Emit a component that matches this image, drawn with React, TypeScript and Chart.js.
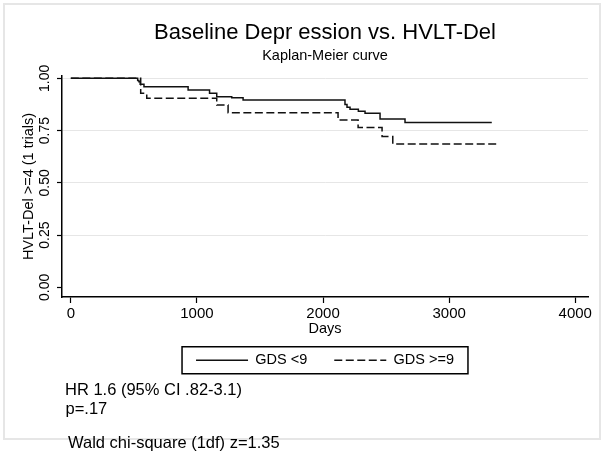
import React, { useEffect, useRef } from 'react';
import { Chart, registerables } from 'chart.js';

Chart.register(...registerables);

// ---- data ----
const chartTitle = 'Baseline Depr ession vs. HVLT-Del';
const chartSubtitle = 'Kaplan-Meier curve';
const xAxisTitle = 'Days';
const yAxisTitle = 'HVLT-Del >=4 (1 trials)';
const seriesNames = ['GDS <9', 'GDS >=9'];

// GDS <9 : event / censor days and survival after each step
const lowDays = [0, 530, 540, 550, 580, 930, 1100, 1157, 1276, 1366, 2174, 2190, 2214, 2280, 2333, 2452, 2650, 3338];
const lowSurvival = [1, 0.99, 0.984, 0.972, 0.96, 0.944, 0.928, 0.912, 0.907, 0.896, 0.875, 0.862, 0.852, 0.842, 0.833, 0.805, 0.789, 0.789];

// GDS >=9
const highDays = [0, 554, 602, 1157, 1247, 2119, 2278, 2468, 2553, 3388];
const highSurvival = [1, 0.928, 0.904, 0.872, 0.835, 0.8, 0.764, 0.721, 0.686, 0.686];

const xTickValues = [0, 1000, 2000, 3000, 4000];
const xTickLabels = ['0', '1000', '2000', '3000', '4000'];
const yTickValues = [0, 0.25, 0.5, 0.75, 1];
const yTickLabels = ['0.00', '0.25', '0.50', '0.75', '1.00'];

const noteLines = ['HR 1.6 (95% CI .82-3.1)', 'p=.17'];
const waldNote = 'Wald chi-square (1df) z=1.35';

const FONT = '"Liberation Sans", Arial, Helvetica, sans-serif';

const toPoints = (xs: number[], ys: number[]) => xs.map((x, i) => ({ x, y: ys[i] }));

const stataPlugin = {
  id: 'stataDecor',
  beforeDraw(chart: any) {
    const ctx = chart.ctx;
    ctx.save();
    ctx.strokeStyle = '#e6e6e6';
    ctx.lineWidth = 2;
    ctx.strokeRect(4, 4, 596, 435);
    ctx.restore();
  },
  afterDraw(chart: any) {
    const ctx = chart.ctx;
    const lg = chart.legend;
    ctx.save();
    if (lg && lg.legendHitBoxes && lg.legendHitBoxes.length) {
      const hb = lg.legendHitBoxes;
      const first = hb[0];
      const last = hb[hb.length - 1];
      const cy = first.top + first.height / 2;
      const left = first.left - 14;
      const right = last.left + last.width + 14;
      ctx.strokeStyle = '#000';
      ctx.lineWidth = 1.5;
      ctx.strokeRect(left, cy - 13.5, right - left, 27);
    }
    ctx.fillStyle = '#000';
    ctx.font = `16.5px ${FONT}`;
    ctx.textAlign = 'left';
    ctx.textBaseline = 'middle';
    const area = chart.chartArea;
    ctx.fillText(noteLines[0], area.left + 3, 390);
    ctx.fillText(noteLines[1], area.left + 3.5, 409.5);
    ctx.fillText(waldNote, area.left + 6, 443);
    ctx.restore();
  },
};

export default function App() {
  const canvasRef = useRef<HTMLCanvasElement | null>(null);

  useEffect(() => {
    if (!canvasRef.current) return;
    Chart.defaults.font.family = FONT;
    Chart.defaults.color = '#000';

    const chart = new Chart(canvasRef.current, {
      type: 'line',
      data: {
        datasets: [
          {
            label: seriesNames[0],
            data: toPoints(lowDays, lowSurvival),
            borderColor: '#111',
            backgroundColor: '#111',
            borderWidth: 1.5,
            pointRadius: 0,
            stepped: true,
            fill: false,
          },
          {
            label: seriesNames[1],
            data: toPoints(highDays, highSurvival),
            borderColor: '#111',
            backgroundColor: '#111',
            borderWidth: 1.5,
            borderDash: [8, 3.5],
            pointRadius: 0,
            stepped: true,
            fill: false,
          },
        ],
      },
      options: {
        animation: false,
        responsive: false,
        maintainAspectRatio: false,
        layout: { padding: { left: 0, right: 16, top: 0, bottom: 78.5 } },
        scales: {
          x: {
            type: 'linear',
            min: -70,
            max: 4101,
            afterFit: (s: any) => { s.height = 29; },
            afterBuildTicks: (s: any) => { s.ticks = xTickValues.map((v) => ({ value: v })); },
            ticks: {
              callback: (_v: any, i: number) => xTickLabels[i],
              font: { size: 15, lineHeight: 1 },
              color: '#000',
              padding: 3.5,
              maxRotation: 0,
              minRotation: 0,
            },
            grid: { drawOnChartArea: false, tickLength: 6, tickColor: '#000', tickWidth: 1.2 },
            border: { display: true, color: '#000', width: 1.5 },
            title: {
              display: true,
              text: xAxisTitle,
              font: { size: 14.5 },
              color: '#000',
              padding: { top: 0, bottom: -11.7 },
            },
          },
          y: {
            type: 'linear',
            min: -0.0464,
            max: 1.011,
            afterFit: (s: any) => { s.width = 62; },
            afterBuildTicks: (s: any) => { s.ticks = yTickValues.map((v) => ({ value: v })); },
            ticks: {
              callback: (_v: any, i: number) => yTickLabels[i],
              font: { size: 14, lineHeight: 1 },
              color: '#000',
              padding: -1.5,
              minRotation: 90,
              maxRotation: 90,
              crossAlign: 'center',
            },
            grid: {
              color: (c: any) => (c.tick && c.tick.value === 0 ? 'rgba(0,0,0,0)' : '#e6e6e6'),
              lineWidth: 1,
              tickLength: 5,
              tickColor: '#000',
              tickWidth: 1.2,
            },
            border: { display: true, color: '#000', width: 1.5 },
            title: {
              display: true,
              text: yAxisTitle,
              font: { size: 14.5 },
              color: '#000',
              padding: { top: 20, bottom: 0 },
            },
          },
        },
        plugins: {
          title: {
            display: true,
            text: chartTitle,
            fullSize: false,
            font: { size: 22, weight: 'normal' },
            color: '#000',
            padding: { top: 19.3, bottom: 0 },
          },
          subtitle: {
            display: true,
            text: chartSubtitle,
            fullSize: false,
            font: { size: 14.5, weight: 'normal' },
            color: '#000',
            padding: { top: 1.6, bottom: 11.3 },
          },
          legend: {
            display: true,
            position: 'bottom',
            fullSize: false,
            labels: {
              usePointStyle: true,
              pointStyle: 'line',
              pointStyleWidth: 52,
              font: { size: 14.5 },
              color: '#000',
              padding: 27,
              generateLabels: (ch: any) => {
                const items = Chart.defaults.plugins.legend.labels.generateLabels(ch);
                return items.map((it: any) => {
                  const ds: any = ch.data.datasets[it.datasetIndex];
                  return {
                    ...it,
                    lineDash: ds.borderDash || [],
                    lineWidth: ds.borderWidth,
                    strokeStyle: ds.borderColor,
                    fillStyle: 'rgba(0,0,0,0)',
                  };
                });
              },
            },
          },
          tooltip: { enabled: false },
        },
      },
      plugins: [stataPlugin],
    } as any);

    return () => chart.destroy();
  }, []);

  return (
    <div style={{ position: 'absolute', left: 0, top: 0, width: 604, height: 456, background: '#fff' }}>
      <canvas ref={canvasRef} width={604} height={456} style={{ display: 'block', width: 604, height: 456 }} />
    </div>
  );
}
